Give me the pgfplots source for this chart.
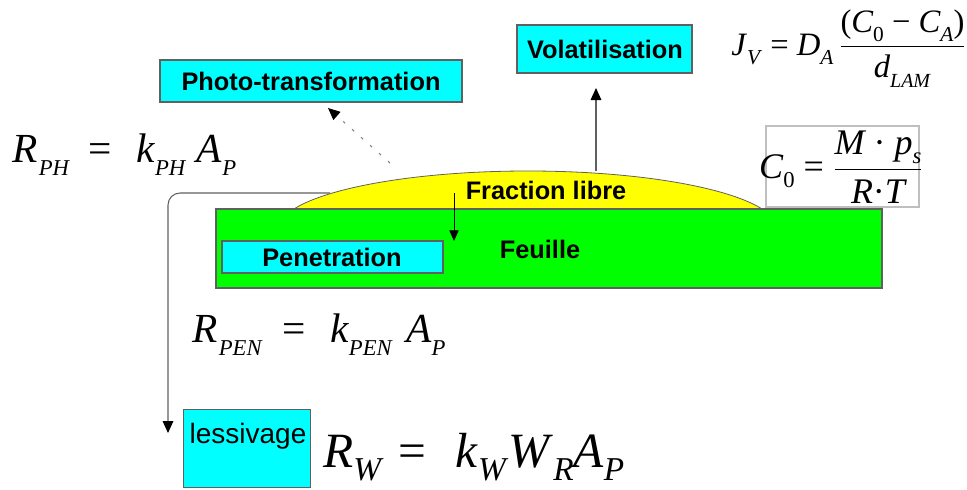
\RequirePackage{fix-cm}
\documentclass[border=0pt]{standalone}
\usepackage{amsmath}
\usepackage{fontspec}
\setmainfont{Liberation Sans}
\newfontfamily\tnr{Liberation Serif}
\usepackage{pgfplots}
\pgfplotsset{compat=1.18}
\usetikzlibrary{arrows.meta}
\definecolor{cy}{HTML}{00FFFF}
\definecolor{gr}{HTML}{00FF00}
\definecolor{ye}{HTML}{FFFF00}
\definecolor{bd}{HTML}{606060}
\newcommand\V[1]{\textit{\tnr #1}}
\newcommand\U[1]{\textup{\tnr #1}}
\newcommand\sbs[3]{\raisebox{-#2em}{\fontsize{#1}{#1}\selectfont #3}}
\begin{document}
\begin{tikzpicture}
\begin{axis}[width=725.25pt,height=366.75pt,scale only axis,hide axis,clip=false,
  xmin=0,xmax=967,ymin=0,ymax=489,y dir=reverse]
\path (axis cs:0,0) rectangle (axis cs:967,489);
% leaching path
\draw[bd,line width=0.8pt,rounded corners=9pt,-{Triangle[color=black,length=9pt,width=8pt]}]
  (axis cs:330,193) -- (axis cs:168,193) -- (axis cs:168,433);
% free fraction (ellipse)
\draw[fill=ye,draw=bd,line width=0.6pt] (axis cs:528,229) ellipse [x radius=187pt, y radius=43.5pt];
% leaf
\addplot[fill=gr,draw=bd,line width=0.8pt,mark=none] coordinates {(216,209) (882,209) (882,288) (216,288)} -- cycle;
% penetration box
\addplot[fill=cy,draw=bd,line width=0.8pt,mark=none] coordinates {(222,241) (443,241) (443,273) (222,273)} -- cycle;
% photo box
\addplot[fill=cy,draw=bd,line width=0.8pt,mark=none] coordinates {(160,60) (462,60) (462,102) (160,102)} -- cycle;
% volatilisation box
\addplot[fill=cy,draw=bd,line width=0.8pt,mark=none] coordinates {(517,25) (692,25) (692,73) (517,73)} -- cycle;
% lessivage box
\addplot[fill=cy,draw=bd,line width=0.6pt,mark=none] coordinates {(183,409) (310,409) (310,487) (183,487)} -- cycle;
% C0 box
\addplot[fill=white,draw=gray!50,line width=0.8pt,mark=none] coordinates {(766,126) (919,126) (919,207) (766,207)} -- cycle;
% arrows
\draw[bd,line width=0.8pt,-{Triangle[color=black,length=9pt,width=8pt]}] (axis cs:596,171) -- (axis cs:596,88);
\draw[black,line width=0.6pt,-{Triangle[length=8pt,width=7pt]}] (axis cs:454,193) -- (axis cs:454,241);
\draw[gray,line width=0.8pt,dash pattern=on 2pt off 7pt,-{Triangle[color=black,length=9pt,width=8pt]}] (axis cs:390,163) -- (axis cs:328,108);
% labels
\node[font=\fontsize{19}{22}\selectfont\bfseries] at (axis cs:311,81) {Photo-transformation};
\node[font=\fontsize{19}{22}\selectfont\bfseries] at (axis cs:605,49) {Volatilisation};
\node[font=\fontsize{19}{22}\selectfont\bfseries] at (axis cs:546,190) {Fraction libre};
\node[font=\fontsize{19}{22}\selectfont\bfseries] at (axis cs:332,257) {Penetration};
\node[font=\fontsize{19}{22}\selectfont\bfseries] at (axis cs:540,249) {Feuille};
\node[font=\fontsize{21}{24}\selectfont] at (axis cs:248,436) {lessivage};
% formulas
\node[anchor=base west,inner sep=0pt,font=\fontsize{31}{34}\selectfont] at (axis cs:12,162)
  {\V{R}\hspace{1pt}\sbs{17}{0.33}{\V{PH}}\hspace{14pt}\U{=}\hspace{18pt}\V{k}\sbs{17}{0.33}{\V{PH}}\hspace{8pt}\V{A}\sbs{17}{0.33}{\V{P}}};
\node[anchor=base west,inner sep=0pt,font=\fontsize{31}{34}\selectfont] at (axis cs:192,342)
  {\V{R}\hspace{1pt}\sbs{17}{0.33}{\V{PEN}}\hspace{15pt}\U{=}\hspace{18pt}\V{k}\sbs{17}{0.33}{\V{PEN}}\hspace{10pt}\V{A}\sbs{17}{0.33}{\V{P}}};
\node[anchor=base west,inner sep=0pt,font=\fontsize{37}{40}\selectfont] at (axis cs:323,467)
  {\V{R}\sbs{25}{0.28}{\V{W}}\hspace{11pt}\U{=}\hspace{22pt}\V{k}\sbs{25}{0.28}{\V{W}}\V{W}\sbs{25}{0.28}{\V{R}}\V{A}\sbs{25}{0.28}{\V{P}}};
\node[anchor=base west,inner sep=0pt,font=\fontsize{24.5}{28}\selectfont] at (axis cs:731,55)
  {\V{J}\sbs{16}{0.3}{\V{V}}\U{ = }\V{D}\sbs{16}{0.3}{\V{A}}\hspace{4pt}$\dfrac{\U{(}\V{C}\sbs{16}{0.25}{\U{0}}\U{ − }\V{C}\sbs{16}{0.25}{\V{A}}\U{)}}{\V{d}\sbs{15}{0.3}{\V{LAM}}}$};
\node[inner sep=0pt,font=\fontsize{27}{30}\selectfont] at (axis cs:841,167)
  {\V{C}\sbs{17}{0.25}{\U{0}}\U{ = }$\dfrac{\V{M}\U{ · }\V{p}\sbs{17}{0.25}{\V{s}}}{\V{R}\U{·}\V{T}}$};
\end{axis}
\pgfresetboundingbox
\useasboundingbox (current axis.south west) rectangle (current axis.north east);
\end{tikzpicture}
\end{document}
